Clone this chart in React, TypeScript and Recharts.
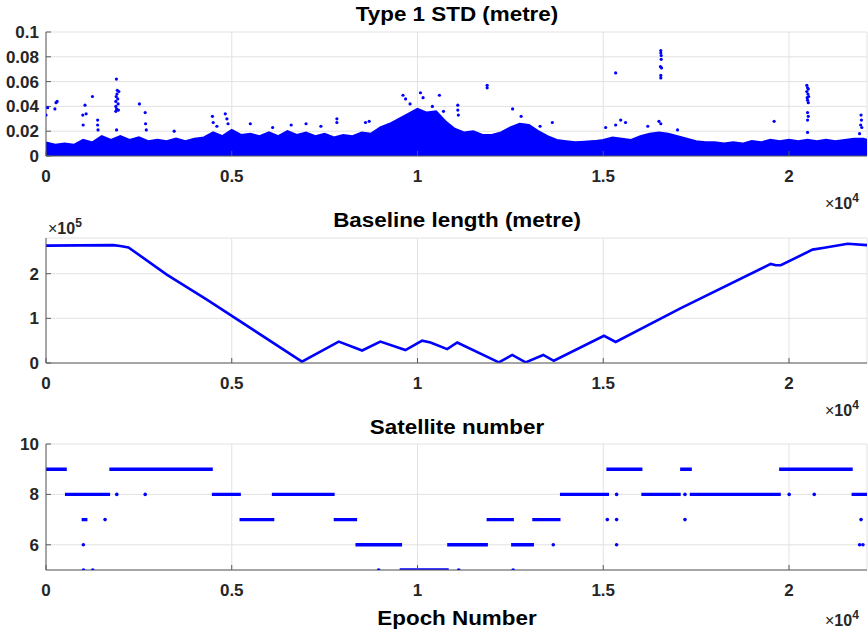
import React from 'react';
import { ComposedChart, Area, Line, Scatter, XAxis, YAxis, CartesianGrid } from 'recharts';

const X_MAX = 22100;
const xTicks = [0, 5000, 10000, 15000, 20000];
const xTickLabels = ['0', '0.5', '1', '1.5', '2'];

// Type 1 STD: upper edge of the dense band, read every 250 epochs
const stdEpochs = [0, 250, 500, 750, 1000, 1250, 1500, 1750, 2000, 2250, 2500, 2750, 3000, 3250, 3500, 3750, 4000, 4250, 4500, 4750, 5000, 5250, 5500, 5750, 6000, 6250, 6500, 6750, 7000, 7250, 7500, 7750, 8000, 8250, 8500, 8750, 9000, 9250, 9500, 9750, 10000, 10250, 10500, 10750, 11000, 11250, 11500, 11750, 12000, 12250, 12500, 12750, 13000, 13250, 13500, 13750, 14000, 14250, 14500, 14750, 15000, 15250, 15500, 15750, 16000, 16250, 16500, 16750, 17000, 17250, 17500, 17750, 18000, 18250, 18500, 18750, 19000, 19250, 19500, 19750, 20000, 20250, 20500, 20750, 21000, 21250, 21500, 21750, 22000, 22100];
const stdUpper = [0.011, 0.009, 0.01, 0.009, 0.013, 0.011, 0.016, 0.013, 0.016, 0.013, 0.015, 0.012, 0.013, 0.012, 0.014, 0.012, 0.014, 0.015, 0.019, 0.016, 0.021, 0.017, 0.018, 0.016, 0.019, 0.016, 0.02, 0.017, 0.019, 0.016, 0.018, 0.015, 0.017, 0.016, 0.019, 0.018, 0.023, 0.026, 0.03, 0.034, 0.038, 0.035, 0.036, 0.028, 0.022, 0.019, 0.02, 0.017, 0.017, 0.019, 0.023, 0.026, 0.025, 0.02, 0.016, 0.013, 0.012, 0.011, 0.0115, 0.012, 0.013, 0.015, 0.014, 0.013, 0.016, 0.018, 0.019, 0.018, 0.016, 0.014, 0.012, 0.011, 0.011, 0.01, 0.011, 0.01, 0.012, 0.011, 0.013, 0.012, 0.013, 0.012, 0.013, 0.012, 0.013, 0.012, 0.013, 0.014, 0.014, 0.013];

// Type 1 STD: isolated points above the band
const stdOutEpochs = [0, 45, 240, 270, 300, 990, 1000, 1050, 1080, 1250, 1390, 1390, 1400, 1880, 1880, 1880, 1890, 1895, 1900, 1910, 1920, 1930, 1940, 1950, 1960, 1900, 2515, 2670, 2680, 2700, 3450, 4480, 4500, 4600, 4825, 4870, 4900, 5500, 6100, 6600, 7000, 7400, 7830, 7830, 8600, 8700, 9610, 9680, 9800, 10080, 10150, 10590, 10400, 10700, 11085, 11085, 11100, 11875, 11875, 12560, 12790, 13630, 13300, 15065, 15335, 15470, 15335, 15600, 16550, 16550, 16560, 16560, 16540, 16570, 16550, 16550, 16550, 16500, 16200, 17000, 19600, 20480, 20500, 20520, 20480, 20510, 20530, 20490, 20500, 20520, 20500, 20520, 20500, 20500, 21940, 21950, 21930, 21960, 21900];
const stdOutValues = [0.033, 0.039, 0.038, 0.043, 0.044, 0.033, 0.025, 0.041, 0.034, 0.048, 0.029, 0.025, 0.021, 0.036, 0.04, 0.044, 0.048, 0.062, 0.038, 0.05, 0.053, 0.046, 0.042, 0.037, 0.052, 0.021, 0.042, 0.035, 0.026, 0.021, 0.02, 0.032, 0.027, 0.024, 0.034, 0.03, 0.026, 0.026, 0.023, 0.025, 0.026, 0.024, 0.03, 0.027, 0.027, 0.028, 0.049, 0.046, 0.042, 0.051, 0.047, 0.049, 0.04, 0.036, 0.041, 0.037, 0.033, 0.055, 0.057, 0.038, 0.032, 0.027, 0.024, 0.023, 0.067, 0.029, 0.025, 0.027, 0.085, 0.083, 0.081, 0.078, 0.072, 0.071, 0.065, 0.063, 0.026, 0.028, 0.024, 0.021, 0.028, 0.057, 0.055, 0.054, 0.052, 0.05, 0.048, 0.047, 0.045, 0.043, 0.035, 0.032, 0.029, 0.019, 0.033, 0.029, 0.025, 0.023, 0.018];

// Baseline length
const blEpochs = [0, 1815, 1995, 2220, 3250, 4330, 6890, 7880, 8510, 9000, 9675, 10125, 10350, 10800, 11070, 12190, 12550, 12910, 13385, 13670, 15020, 15335, 17090, 19510, 19645, 19780, 20635, 20950, 21580, 22120];
const blValues = [263000, 264000, 262000, 259000, 198000, 142000, 3000, 48000, 28000, 48000, 29000, 50000, 46000, 31000, 46000, 1500, 18000, 1500, 18000, 5000, 61000, 47000, 123000, 222000, 219000, 219000, 254000, 258000, 267000, 264000];

// Satellite number: continuous runs
const satRunCount = [9, 8, 9, 7, 8, 7, 8, 7, 6, 5, 6, 7, 6, 7, 8, 9, 8, 9, 8, 9, 8];
const satRunStart = [0, 510, 1705, 960, 4465, 5210, 6080, 7745, 8330, 9520, 10800, 11860, 12520, 13090, 13835, 15085, 16025, 17070, 17330, 19735, 21685];
const satRunEnd = [560, 1725, 4490, 1115, 5245, 6145, 7770, 8375, 9585, 10840, 11895, 12595, 13135, 13850, 15155, 16055, 17085, 17385, 19780, 21715, 22120];

// Satellite number: single epochs
const satDotEpochs = [1905, 2670, 1590, 1005, 1010, 1258, 8955, 11110, 12575, 13655, 15360, 15110, 15360, 15360, 17200, 17200, 20005, 20680, 21940, 21900, 21990];
const satDotCounts = [8, 8, 7, 6, 5, 5, 5, 5, 5, 6, 8, 7, 7, 6, 8, 7, 8, 8, 7, 6, 6];

const bandData = stdEpochs.map((x, i) => ({ x, y: stdUpper[i] }));
const outlierData = stdOutEpochs.map((x, i) => ({ x, y: stdOutValues[i] }));
const baselineData = blEpochs.map((x, i) => ({ x, y: blValues[i] }));
const runData: { x: number; y: number | null }[] = [];
satRunCount.forEach((n, i) => {
  runData.push({ x: satRunStart[i], y: n });
  runData.push({ x: satRunEnd[i], y: n });
  runData.push({ x: satRunEnd[i], y: null });
});
const satDotData = satDotEpochs.map((x, i) => ({ x, y: satDotCounts[i] }));

const FONT = '"Liberation Sans", Arial, Helvetica, sans-serif';
const AXIS = '#5a5a5a';
const BLUE = '#0000ff';

const dot = (r: number) => (p: any) => <circle cx={p.cx} cy={p.cy} r={r} fill={BLUE} />;

function Panel(props: {
  top: number;
  height: number;
  plotTop: number;
  plotBottom: number;
  yDomain: [number, number];
  yTicks: number[];
  yFmt: (v: number) => string;
  children: React.ReactNode;
}) {
  const { top, height, plotTop, plotBottom, yDomain, yTicks, yFmt, children } = props;
  return (
    <div style={{ position: 'absolute', left: 0, top }}>
      <ComposedChart width={868} height={height} margin={{ top: plotTop, right: 1, bottom: 0, left: 0 }}>
        <CartesianGrid stroke="#e2e2e2" />
        <XAxis
          dataKey="x"
          type="number"
          domain={[0, X_MAX]}
          ticks={xTicks}
          interval={0}
          allowDataOverflow
          tickFormatter={(v: number) => xTickLabels[xTicks.indexOf(v)]}
          height={height - plotBottom}
          stroke={AXIS}
          tickSize={-5}
          tickMargin={19}
          tick={{ fill: '#262626', fontSize: 17, fontWeight: 700, fontFamily: FONT }}
        />
        <XAxis
          xAxisId="top"
          orientation="top"
          type="number"
          domain={[0, X_MAX]}
          ticks={xTicks}
          interval={0}
          allowDataOverflow
          tickFormatter={() => ''}
          height={0}
          stroke={AXIS}
          tickSize={-5}
        />
        <YAxis
          dataKey="y"
          type="number"
          domain={yDomain}
          ticks={yTicks}
          interval={0}
          allowDataOverflow
          tickFormatter={yFmt}
          width={46}
          stroke={AXIS}
          tickSize={-5}
          tickMargin={12}
          tick={{ fill: '#262626', fontSize: 17, fontWeight: 700, fontFamily: FONT }}
        />
        <YAxis
          yAxisId="r"
          orientation="right"
          type="number"
          domain={yDomain}
          ticks={yTicks}
          interval={0}
          allowDataOverflow
          tickFormatter={() => ''}
          width={0}
          stroke={AXIS}
          tickSize={-5}
        />
        {children}
      </ComposedChart>
    </div>
  );
}

const titleStyle = (top: number): React.CSSProperties => ({
  position: 'absolute',
  top,
  left: 0,
  width: 914,
  textAlign: 'center',
  fontFamily: FONT,
  fontWeight: 700,
  fontSize: 20,
  color: '#000',
  transform: 'scaleX(1.12)',
  transformOrigin: '457px 0',
  whiteSpace: 'nowrap',
  lineHeight: '22px',
});

const expStyle = (top: number, left: number): React.CSSProperties => ({
  position: 'absolute',
  top,
  left,
  fontFamily: FONT,
  fontWeight: 700,
  fontSize: 16,
  color: '#262626',
  whiteSpace: 'nowrap',
  lineHeight: '18px',
});

function Exp({ top, left, p }: { top: number; left: number; p: string }) {
  return (
    <div style={expStyle(top, left)}>
      <span style={{ fontWeight: 400 }}>×</span>10
      <span style={{ fontSize: 12, position: 'relative', top: -7 }}>{p}</span>
    </div>
  );
}

export default function App() {
  return (
    <div style={{ position: 'absolute', left: 0, top: 0, width: 868, height: 636, background: '#fff', overflow: 'hidden' }}>
      <Panel top={0} height={200} plotTop={32} plotBottom={156} yDomain={[0, 0.1]} yTicks={[0, 0.02, 0.04, 0.06, 0.08, 0.1]} yFmt={(v) => String(v)}>
        <Area data={bandData} dataKey="y" type="linear" stroke={BLUE} strokeWidth={2} fill={BLUE} fillOpacity={1} isAnimationActive={false} />
        <Scatter data={outlierData} dataKey="y" fill={BLUE} shape={dot(1.6)} isAnimationActive={false} />
      </Panel>
      <Panel top={200} height={200} plotTop={38} plotBottom={163} yDomain={[0, 280000]} yTicks={[0, 100000, 200000]} yFmt={(v) => String(v / 100000)}>
        <Line data={baselineData} dataKey="y" type="linear" stroke={BLUE} strokeWidth={2.6} dot={false} isAnimationActive={false} />
      </Panel>
      <Panel top={400} height={236} plotTop={44} plotBottom={170} yDomain={[5, 10]} yTicks={[6, 8, 10]} yFmt={(v) => String(v)}>
        <Line data={runData} dataKey="y" type="linear" stroke={BLUE} strokeWidth={3.4} dot={false} connectNulls={false} isAnimationActive={false} />
        <Scatter data={satDotData} dataKey="y" fill={BLUE} shape={dot(1.8)} isAnimationActive={false} />
      </Panel>

      <div style={titleStyle(3)}>Type 1 STD (metre)</div>
      <div style={titleStyle(209)}>Baseline length (metre)</div>
      <div style={titleStyle(416)}>Satellite number</div>
      <div style={titleStyle(607)}>Epoch Number</div>

      <Exp top={195} left={825} p="4" />
      <Exp top={402} left={825} p="4" />
      <Exp top={612} left={825} p="4" />
      <Exp top={220} left={48} p="5" />
    </div>
  );
}
